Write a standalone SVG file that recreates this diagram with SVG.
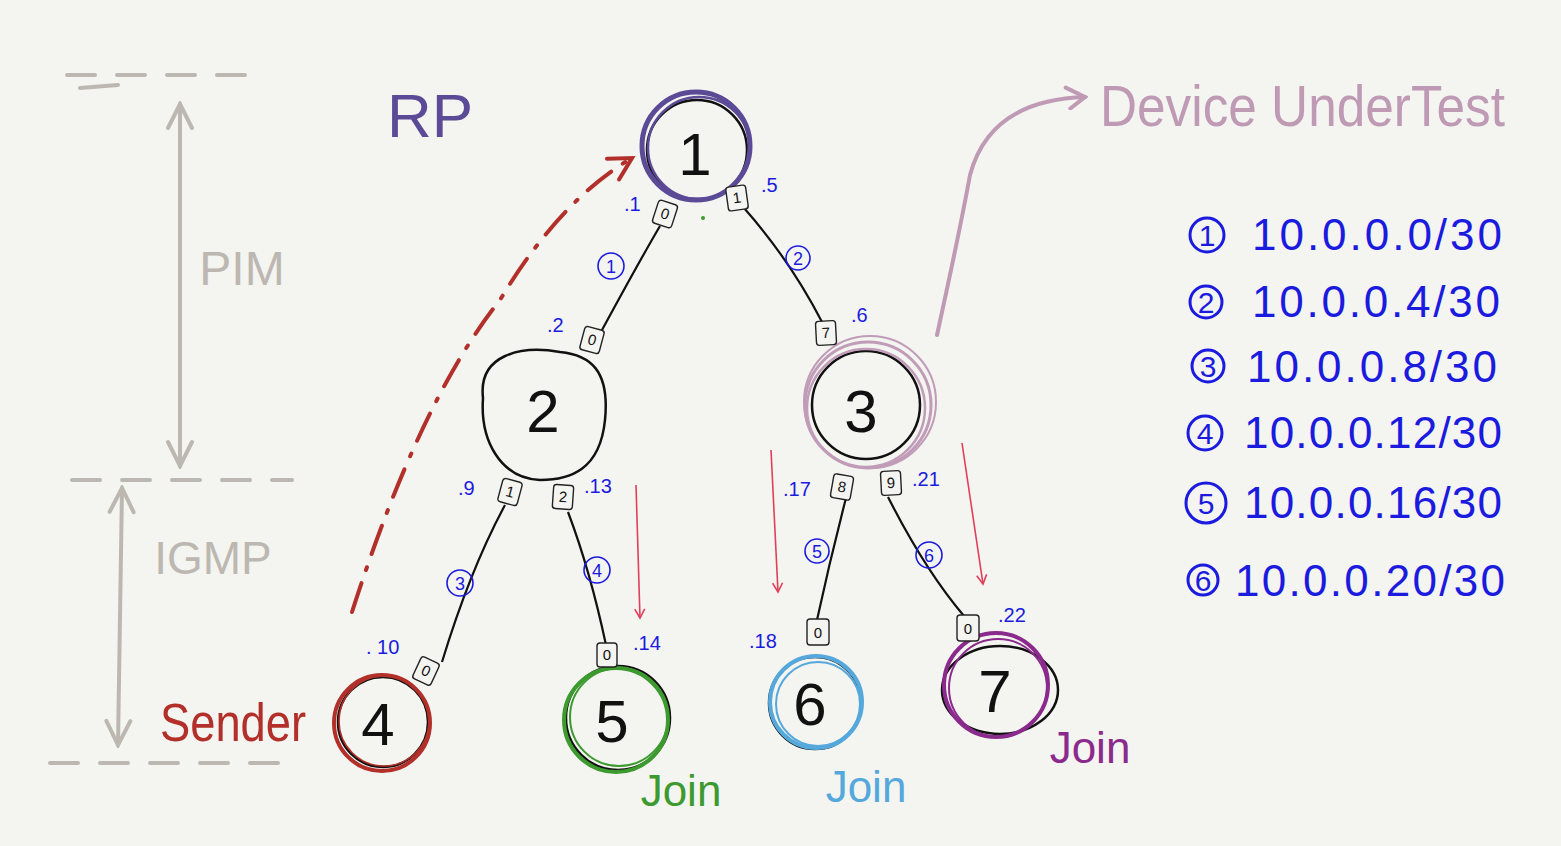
<svg xmlns="http://www.w3.org/2000/svg" width="1561" height="846" viewBox="0 0 1561 846">
<defs>
<style>
text{font-family:"Liberation Sans","DejaVu Sans",sans-serif}
.gray{stroke:#bcb8b1;stroke-width:4;fill:none;stroke-linecap:round}
.dash{stroke-dasharray:28 22}
.link{stroke:#111;stroke-width:2.2;fill:none}
.port rect{fill:#f4f4f0;stroke:#222;stroke-width:1.4}
.port text{font-size:15px;fill:#111;text-anchor:middle}
.ip{font-size:20px;fill:#1b1be0}
.cl circle{fill:none;stroke:#1b1be0;stroke-width:1.6}
.cl text{font-size:18px;fill:#1b1be0;text-anchor:middle}
.nlabel{font-size:60px;fill:#111;text-anchor:middle}
.flow{stroke:#e0405a;stroke-width:1.6;fill:none}
.list{font-size:44px;fill:#1b1be0}
.lc circle{fill:none;stroke:#1b1be0;stroke-width:3}
.lc text{font-size:30px;fill:#1b1be0;text-anchor:middle}
</style>
<marker id="redhead" viewBox="0 0 12 12" refX="10" refY="6" markerWidth="12" markerHeight="12" markerUnits="userSpaceOnUse" orient="auto">
<path d="M1,1 L10,6 L1,11" fill="none" stroke="#e0405a" stroke-width="1.6"/>
</marker>
<marker id="grayhead" viewBox="0 0 30 30" refX="27" refY="15" markerWidth="30" markerHeight="30" markerUnits="userSpaceOnUse" orient="auto-start-reverse">
<path d="M3,3 L27,15 L3,27" fill="none" stroke="#bcb8b1" stroke-width="4" stroke-linecap="round"/>
</marker>
<marker id="darkred" viewBox="0 0 30 30" refX="26" refY="15" markerWidth="30" markerHeight="30" markerUnits="userSpaceOnUse" orient="auto">
<path d="M4,3 L26,15 L4,27" fill="none" stroke="#b3302a" stroke-width="4" stroke-linecap="round"/>
</marker>
<marker id="mauvehead" viewBox="0 0 26 26" refX="23" refY="13" markerWidth="26" markerHeight="26" markerUnits="userSpaceOnUse" orient="auto">
<path d="M4,3 L23,13 L8,24" fill="none" stroke="#bf9ab5" stroke-width="4" stroke-linecap="round"/>
</marker>
</defs>
<rect width="1561" height="846" fill="#f4f4f0"/>

<g id="scale">
<path class="gray dash" d="M67,75 L262,75"/>
<path class="gray" d="M80,88 L118,85"/>
<path class="gray dash" d="M72,480 L292,480"/>
<path class="gray dash" d="M50,763 L298,763"/>
<path class="gray" d="M180,104 L180,466" marker-start="url(#grayhead)" marker-end="url(#grayhead)" stroke-width="3"/>
<path class="gray" d="M122,488 L118,745" marker-start="url(#grayhead)" marker-end="url(#grayhead)" stroke-width="3"/>
<text x="242" y="285" font-size="48" fill="#bcb8b1" text-anchor="middle">PIM</text>
<text x="213" y="574" font-size="46" fill="#bcb8b1" text-anchor="middle">IGMP</text>
</g>

<g id="connectors">
<path class="link" d="M660,226 Q640,260 602,330"/>
<path class="link" d="M744,208 Q790,260 822,322"/>
<path class="link" d="M505,505 Q470,570 442,662"/>
<path class="link" d="M568,512 Q590,570 606,645"/>
<path class="link" d="M846,498 Q830,560 817,620"/>
<path class="link" d="M888,497 Q925,570 964,616"/>
<path class="flow" d="M636,485 L640,618" marker-end="url(#redhead)"/>
<path class="flow" d="M771,450 L778,592" marker-end="url(#redhead)"/>
<path class="flow" d="M962,443 L983,584" marker-end="url(#redhead)"/>
<path d="M352,612 Q420,400 500,300 Q560,200 632,158" fill="none" stroke="#b3302a" stroke-width="4" stroke-linecap="round" stroke-dasharray="30 14 3 14" marker-end="url(#darkred)"/>
<path d="M937,335 Q960,230 970,175 Q990,100 1085,97" fill="none" stroke="#bf9ab5" stroke-width="4" stroke-linecap="round" marker-end="url(#mauvehead)"/>
<g class="cl"><circle cx="611" cy="266" r="13"/><text x="611" y="273">1</text></g>
<g class="cl"><circle cx="798" cy="258" r="12"/><text x="798" y="265">2</text></g>
<g class="cl"><circle cx="460" cy="583" r="13"/><text x="460" y="590">3</text></g>
<g class="cl"><circle cx="597" cy="570" r="13"/><text x="597" y="577">4</text></g>
<g class="cl"><circle cx="817" cy="551" r="12"/><text x="817" y="558">5</text></g>
<g class="cl"><circle cx="929" cy="555" r="13"/><text x="929" y="562">6</text></g>
</g>

<g id="node1">
<circle cx="697" cy="150" r="50" fill="none" stroke="#111" stroke-width="2.5"/>
<circle cx="696" cy="146" r="54" fill="none" stroke="#5b4a96" stroke-width="5"/>
<circle cx="699" cy="148" r="51" fill="none" stroke="#5b4a96" stroke-width="2.5"/>
<text class="nlabel" x="695" y="175">1</text>
<g class="port" transform="translate(665,214) rotate(18)"><rect x="-10" y="-12" width="20" height="24" rx="3"/><text x="0" y="5">0</text></g>
<g class="port" transform="translate(737,198) rotate(-8)"><rect x="-10" y="-12" width="20" height="24" rx="3"/><text x="0" y="5">1</text></g>
<text class="ip" x="624" y="211">.1</text>
<text class="ip" x="761" y="192">.5</text>
<circle cx="703" cy="218" r="2" fill="#3c9a2f"/>
</g>

<g id="node2">
<path d="M483,398 C478,355 520,345 560,352 C590,355 610,370 605,420 C600,470 570,480 540,480 C500,478 480,440 483,398 Z" fill="none" stroke="#111" stroke-width="2.5"/>
<text class="nlabel" x="543" y="432">2</text>
<g class="port" transform="translate(592,340) rotate(15)"><rect x="-10" y="-12" width="20" height="24" rx="3"/><text x="0" y="5">0</text></g>
<g class="port" transform="translate(510,492) rotate(15)"><rect x="-10" y="-12" width="20" height="24" rx="3"/><text x="0" y="5">1</text></g>
<g class="port" transform="translate(563,497) rotate(4)"><rect x="-10" y="-12" width="20" height="24" rx="3"/><text x="0" y="5">2</text></g>
<text class="ip" x="547" y="332">.2</text>
<text class="ip" x="458" y="495">.9</text>
<text class="ip" x="584" y="493">.13</text>
</g>

<g id="node3">
<circle cx="866" cy="405" r="54" fill="none" stroke="#111" stroke-width="2.5"/>
<circle cx="868" cy="405" r="63" fill="none" stroke="#c09cb8" stroke-width="3"/>
<circle cx="866" cy="408" r="59" fill="none" stroke="#c09cb8" stroke-width="2.5"/>
<circle cx="870" cy="402" r="66" fill="none" stroke="#c09cb8" stroke-width="2"/>
<text class="nlabel" x="861" y="432">3</text>
<g class="port" transform="translate(826,333) rotate(-3)"><rect x="-10" y="-12" width="20" height="24" rx="3"/><text x="0" y="5">7</text></g>
<g class="port" transform="translate(842,487) rotate(10)"><rect x="-10" y="-12" width="20" height="24" rx="3"/><text x="0" y="5">8</text></g>
<g class="port" transform="translate(891,483) rotate(-3)"><rect x="-10" y="-12" width="20" height="24" rx="3"/><text x="0" y="5">9</text></g>
<text class="ip" x="851" y="322">.6</text>
<text class="ip" x="783" y="496">.17</text>
<text class="ip" x="912" y="486">.21</text>
</g>

<g id="node4">
<circle cx="383" cy="722" r="45" fill="none" stroke="#111" stroke-width="2.5"/>
<circle cx="382" cy="723" r="48" fill="none" stroke="#b3302a" stroke-width="4"/>
<circle cx="384" cy="721" r="45" fill="none" stroke="#b3302a" stroke-width="1.5"/>
<text class="nlabel" x="378" y="745">4</text>
<g class="port" transform="translate(426,671) rotate(25)"><rect x="-10" y="-12" width="20" height="24" rx="3"/><text x="0" y="5">0</text></g>
<text class="ip" x="366" y="654">. 10</text>
<text x="160" y="741" font-size="54" fill="#b3302a" textLength="146" lengthAdjust="spacingAndGlyphs">Sender</text>
</g>

<g id="node5">
<circle cx="618" cy="718" r="52" fill="none" stroke="#111" stroke-width="2.5"/>
<circle cx="616" cy="720" r="52" fill="none" stroke="#3c9a2f" stroke-width="4"/>
<circle cx="619" cy="717" r="49" fill="none" stroke="#3c9a2f" stroke-width="2"/>
<text class="nlabel" x="612" y="742">5</text>
<g class="port" transform="translate(607,655)"><rect x="-10" y="-12" width="20" height="24" rx="3"/><text x="0" y="5">0</text></g>
<text class="ip" x="633" y="650">.14</text>
<text x="681" y="806" font-size="44" fill="#3c9a2f" text-anchor="middle">Join</text>
</g>

<g id="node6">
<circle cx="815" cy="703" r="46" fill="none" stroke="#111" stroke-width="2.5"/>
<circle cx="816" cy="702" r="46" fill="none" stroke="#55a8dc" stroke-width="4"/>
<circle cx="818" cy="704" r="42" fill="none" stroke="#55a8dc" stroke-width="2"/>
<text class="nlabel" x="810" y="725">6</text>
<g class="port" transform="translate(818,632)"><rect x="-11" y="-13" width="22" height="26" rx="3"/><text x="0" y="6">0</text></g>
<text class="ip" x="749" y="648" font-size="23">.18</text>
<text x="866" y="802" font-size="44" fill="#55a8dc" text-anchor="middle">Join</text>
</g>

<g id="node7">
<ellipse cx="1000" cy="690" rx="58" ry="44" fill="none" stroke="#111" stroke-width="2.5"/>
<circle cx="996" cy="685" r="52" fill="none" stroke="#8a2a8c" stroke-width="4"/>
<circle cx="998" cy="688" r="49" fill="none" stroke="#8a2a8c" stroke-width="2"/>
<text class="nlabel" x="995" y="712">7</text>
<g class="port" transform="translate(968,628)"><rect x="-11" y="-13" width="22" height="26" rx="3"/><text x="0" y="6">0</text></g>
<text class="ip" x="998" y="622" font-size="22">.22</text>
<text x="1090" y="763" font-size="44" fill="#8a2a8c" text-anchor="middle">Join</text>
</g>

<g id="labels">
<text x="430" y="137" font-size="62" fill="#5b4a96" text-anchor="middle">RP</text>
<text x="1100" y="126" font-size="58" fill="#bf9ab5" textLength="405" lengthAdjust="spacingAndGlyphs">Device UnderTest</text>
</g>

<g id="subnets">
<g class="lc"><circle cx="1207" cy="235" r="17"/><text x="1207" y="246">1</text></g>
<text class="list" x="1252" y="250" textLength="250" lengthAdjust="spacing">10.0.0.0/30</text>
<g class="lc"><circle cx="1206" cy="302" r="16"/><text x="1206" y="313">2</text></g>
<text class="list" x="1252" y="317" textLength="248" lengthAdjust="spacing">10.0.0.4/30</text>
<g class="lc"><circle cx="1208" cy="366" r="16"/><text x="1208" y="377">3</text></g>
<text class="list" x="1247" y="382" textLength="250" lengthAdjust="spacing">10.0.0.8/30</text>
<g class="lc"><circle cx="1205" cy="433" r="17"/><text x="1205" y="444">4</text></g>
<text class="list" x="1244" y="448" textLength="258" lengthAdjust="spacing">10.0.0.12/30</text>
<g class="lc"><circle cx="1206" cy="503" r="20"/><text x="1206" y="514">5</text></g>
<text class="list" x="1244" y="518" textLength="258" lengthAdjust="spacing">10.0.0.16/30</text>
<g class="lc"><circle cx="1203" cy="580" r="15"/><text x="1203" y="591">6</text></g>
<text class="list" x="1235" y="596" textLength="270" lengthAdjust="spacing">10.0.0.20/30</text>
</g>
</svg>
